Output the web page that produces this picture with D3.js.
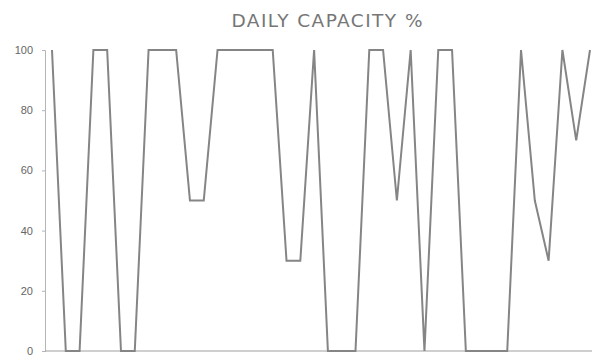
<!DOCTYPE html>
<html>
<head>
<meta charset="utf-8">
<script src="https://cdn.jsdelivr.net/npm/d3@7"></script>
<style>
  html, body { margin: 0; padding: 0; background: #fff; }
  svg { display: block; }
</style>
</head>
<body>
<svg id="chart" width="592" height="356"></svg>
<script>
// Daily capacity readings, one per day
const days = [
  "D1","D2","D3","D4","D5","D6","D7","D8","D9","D10",
  "D11","D12","D13","D14","D15","D16","D17","D18","D19","D20",
  "D21","D22","D23","D24","D25","D26","D27","D28","D29","D30",
  "D31","D32","D33","D34","D35","D36","D37","D38","D39","D40"
];
const capacity = [
  100, 0, 0, 100, 100, 0, 0, 100, 100, 100,
  50, 50, 100, 100, 100, 100, 100, 30, 30, 100,
  0, 0, 0, 100, 100, 50, 100, 0, 100, 100,
  0, 0, 0, 0, 100, 50, 30, 100, 70, 100
];
const yTicks = [0, 20, 40, 60, 80, 100];
const title = "DAILY CAPACITY %";

const svg = d3.select("#chart");

const x = d3.scalePoint().domain(days).range([52, 590]);
const y = d3.scaleLinear().domain([0, 100]).range([351, 50]);

// Title, fitted to span its slot above the plot
svg.append("text")
  .attr("x", 327)
  .attr("y", 26.5)
  .attr("text-anchor", "middle")
  .attr("font-family", "'DejaVu Sans', sans-serif")
  .attr("font-size", 18.5)
  .attr("font-weight", 400)
  .attr("fill", "#767676")
  .attr("textLength", 191)
  .attr("lengthAdjust", "spacing")
  .text(title);

// Y axis
const yAxis = svg.append("g")
  .attr("transform", "translate(45,0)")
  .call(d3.axisLeft(y).tickValues(yTicks).tickSize(3).tickPadding(9));
yAxis.selectAll("text")
  .attr("font-family", "'Liberation Sans', Arial, sans-serif")
  .attr("font-size", 11)
  .attr("fill", "#666");
yAxis.selectAll("line, path").attr("stroke", "#b5b5b5");

// X baseline
svg.append("line")
  .attr("x1", 45).attr("x2", 592)
  .attr("y1", y(0)).attr("y2", y(0))
  .attr("stroke", "#a0a0a0")
  .attr("stroke-width", 1.2);

// Capacity line
const line = d3.line()
  .x((d, i) => x(days[i]))
  .y(d => y(d));

svg.append("path")
  .datum(capacity)
  .attr("d", line)
  .attr("fill", "none")
  .attr("stroke", "#858585")
  .attr("stroke-width", 2)
  .attr("stroke-linejoin", "miter");
</script>
</body>
</html>
